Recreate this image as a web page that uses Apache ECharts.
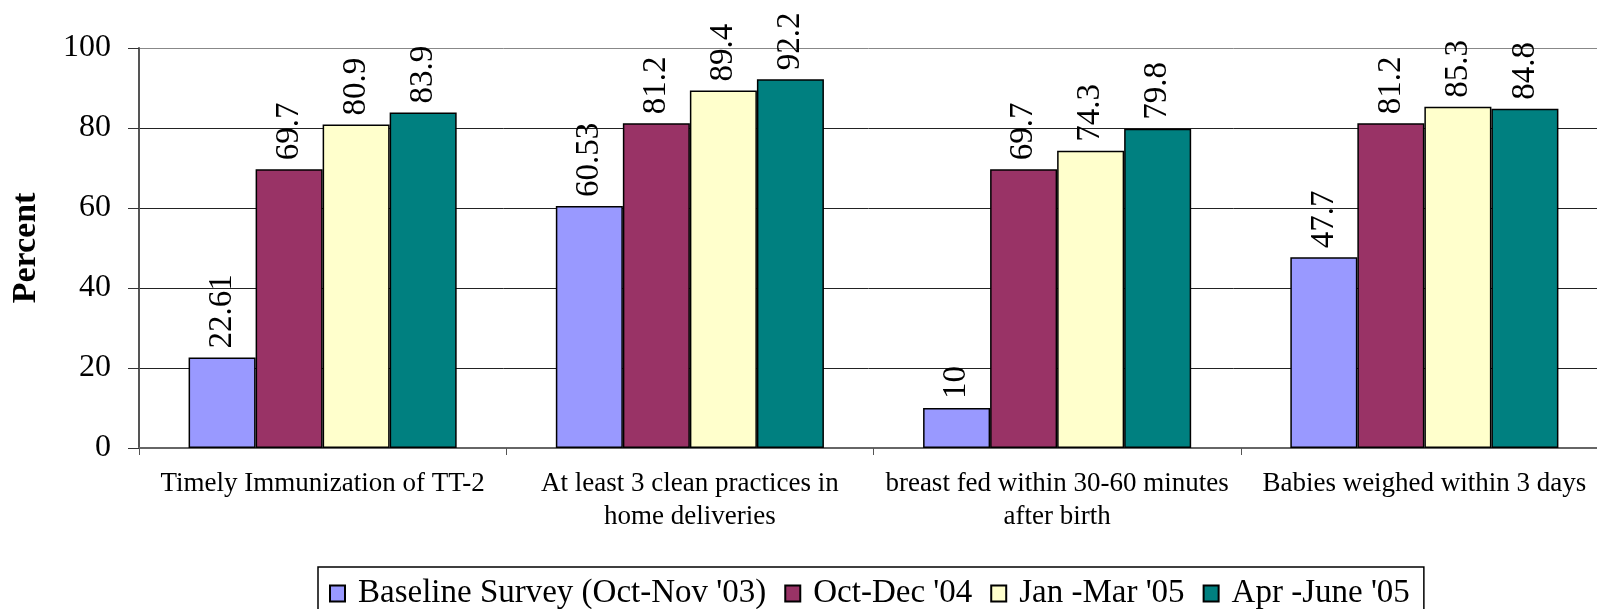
<!DOCTYPE html>
<html>
<head>
<meta charset="utf-8">
<script src="https://cdn.jsdelivr.net/npm/echarts@6/dist/echarts.min.js"></script>
<style>
  html, body { margin: 0; padding: 0; background: #ffffff; }
  #chart { width: 1597px; height: 609px; }
</style>
</head>
<body>
<div id="chart"></div>
<script>
// Indicator categories (x axis)
const categories = [
  'Timely Immunization of TT-2',
  'At least 3 clean practices in\nhome deliveries',
  'breast fed within 30-60 minutes\nafter birth',
  'Babies weighed within 3 days'
];

// Survey rounds
const seriesNames = [
  "Baseline Survey (Oct-Nov '03)",
  "Oct-Dec '04",
  "Jan -Mar '05",
  "Apr -June '05"
];

// Percent values per survey round
const baseline = [22.61, 60.53, 10, 47.7];
const octDec04 = [69.7, 81.2, 69.7, 81.2];
const janMar05 = [80.9, 89.4, 74.3, 85.3];
const aprJun05 = [83.9, 92.2, 79.8, 84.8];

// Y axis ticks
const yTicks = [0, 20, 40, 60, 80, 100];

const seriesValues = [baseline, octDec04, janMar05, aprJun05];
const colors = ['#9999FF', '#993366', '#FFFFCC', '#008080'];
const serif = "'Liberation Serif', 'Times New Roman', serif";

const chart = echarts.init(document.getElementById('chart'), null, { renderer: 'canvas' });

chart.setOption({
  animation: false,
  backgroundColor: '#ffffff',
  color: colors,
  grid: {
    left: 139,
    top: 48,
    right: -11,
    bottom: 161,
    containLabel: false,
    outerBoundsMode: 'none'
  },
  legend: {
    left: 318,
    top: 567,
    padding: [10, 14, 10, 11],
    borderColor: '#000',
    borderWidth: 1.5,
    itemGap: 18,
    itemWidth: 15,
    itemHeight: 16,
    icon: 'rect',
    data: seriesNames,
    textStyle: {
      fontFamily: serif,
      fontSize: 33,
      color: '#000',
      padding: [0, 0, 0, 8]
    }
  },
  xAxis: {
    type: 'category',
    data: categories,
    axisLine: { lineStyle: { color: '#666', width: 2 } },
    axisTick: { show: true, length: 7, lineStyle: { color: '#555', width: 1 } },
    axisLabel: {
      fontFamily: serif,
      fontSize: 27,
      lineHeight: 33,
      color: '#000',
      margin: 19,
      interval: 0
    },
    splitLine: { show: false }
  },
  yAxis: {
    type: 'value',
    min: yTicks[0],
    max: yTicks[yTicks.length - 1],
    interval: 20,
    name: 'Percent',
    nameLocation: 'middle',
    nameGap: 96,
    nameTextStyle: {
      fontFamily: serif,
      fontSize: 34,
      fontWeight: 'bold',
      color: '#000'
    },
    axisLine: { show: true, lineStyle: { color: '#555', width: 2 } },
    axisTick: { show: true, length: 11, lineStyle: { color: '#333', width: 1 } },
    axisLabel: {
      fontFamily: serif,
      fontSize: 32,
      color: '#000',
      margin: 28
    },
    splitLine: {
      show: true,
      lineStyle: { color: ['#666', '#222', '#222', '#222', '#222', '#888'], width: 1 }
    }
  },
  series: seriesNames.map((name, i) => ({
    name: name,
    type: 'bar',
    data: seriesValues[i],
    barGap: '0%',
    barCategoryGap: '27%',
    itemStyle: { color: colors[i], borderColor: '#000', borderWidth: 1.5 },
    label: {
      show: true,
      position: 'top',
      rotate: 90,
      align: 'left',
      verticalAlign: 'middle',
      distance: 9,
      fontFamily: serif,
      fontSize: 33,
      color: '#000'
    }
  }))
});
</script>
</body>
</html>
